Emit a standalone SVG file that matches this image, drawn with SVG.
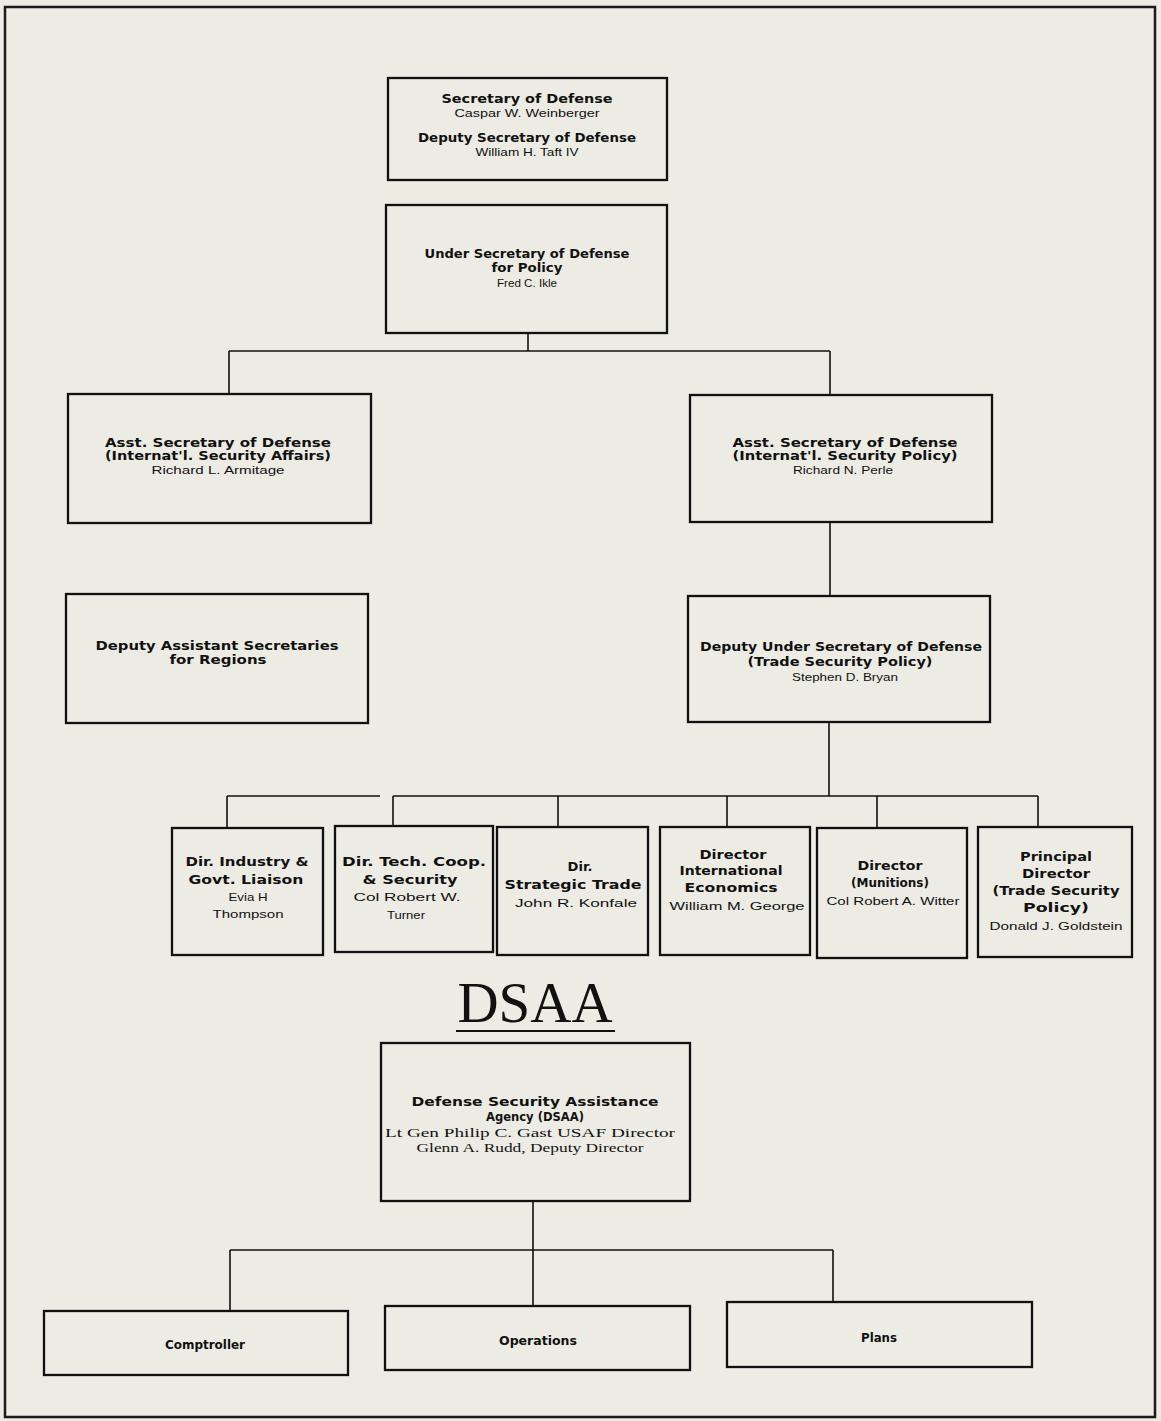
<svg xmlns="http://www.w3.org/2000/svg" width="1161" height="1421" viewBox="0 0 1161 1421">
<style>
.bg{fill:#ecece4}
.frame{fill:none;stroke:#1a1a1a;stroke-width:2.5}
.box{fill:none;stroke:#111;stroke-width:2.3}
.conn{fill:none;stroke:#111;stroke-width:1.6}
text{text-anchor:middle;fill:#111}
.b{font-family:"DejaVu Sans","Liberation Sans",sans-serif;font-weight:bold;font-size:11.5px}
.r{font-family:"Liberation Sans","DejaVu Sans",sans-serif;font-size:11.5px}
.s{font-family:"Liberation Serif","DejaVu Serif",serif;font-size:11.5px}
.t{font-family:"Liberation Serif","DejaVu Serif",serif;font-size:57px}
</style>
<rect class="bg" x="0" y="0" width="1161" height="1421"/>
<rect class="frame" x="5" y="7" width="1150" height="1410"/>

<g id="connectors">
<path class="conn" d="M528 333V351M229 351H830M229 351V394M830 351V395"/>
<path class="conn" d="M830 522V596"/>
<path class="conn" d="M829 722V796M227 796H380M393 796H1038M227 796V828M393 796V826M558 796V827M727 796V827M877 796V828M1038 796V827"/>
<path class="conn" d="M533 1201V1306M230 1250H833M230 1250V1311M833 1250V1302"/>
<line x1="456" y1="1031" x2="615" y2="1031" stroke="#111" stroke-width="2.2"/>
</g>

<g id="secdef">
<rect class="box" x="388" y="78" width="279" height="102"/>
<text class="b" x="527" y="103" textLength="171" lengthAdjust="spacingAndGlyphs">Secretary of Defense</text>
<text class="r" x="527" y="117" textLength="145" lengthAdjust="spacingAndGlyphs">Caspar W. Weinberger</text>
<text class="b" x="527" y="142" textLength="218" lengthAdjust="spacingAndGlyphs">Deputy Secretary of Defense</text>
<text class="r" x="527" y="156" textLength="103" lengthAdjust="spacingAndGlyphs">William H. Taft IV</text>
</g>

<g id="usdp">
<rect class="box" x="386" y="205" width="281" height="128"/>
<text class="b" x="527" y="258" textLength="205" lengthAdjust="spacingAndGlyphs">Under Secretary of Defense</text>
<text class="b" x="527" y="272" textLength="71" lengthAdjust="spacingAndGlyphs">for Policy</text>
<text class="r" x="527" y="287" textLength="60" lengthAdjust="spacingAndGlyphs">Fred C. Ikle</text>
</g>

<g id="asd-isa">
<rect class="box" x="68" y="394" width="303" height="129"/>
<text class="b" x="218" y="447" textLength="226" lengthAdjust="spacingAndGlyphs">Asst. Secretary of Defense</text>
<text class="b" x="218" y="460" textLength="226" lengthAdjust="spacingAndGlyphs">(Internat'l. Security Affairs)</text>
<text class="r" x="218" y="474" textLength="133" lengthAdjust="spacingAndGlyphs">Richard L. Armitage</text>
</g>

<g id="asd-isp">
<rect class="box" x="690" y="395" width="302" height="127"/>
<text class="b" x="845" y="447" textLength="225" lengthAdjust="spacingAndGlyphs">Asst. Secretary of Defense</text>
<text class="b" x="845" y="460" textLength="225" lengthAdjust="spacingAndGlyphs">(Internat'l. Security Policy)</text>
<text class="r" x="843" y="474" textLength="100" lengthAdjust="spacingAndGlyphs">Richard N. Perle</text>
</g>

<g id="das-regions">
<rect class="box" x="66" y="594" width="302" height="129"/>
<text class="b" x="217" y="650" textLength="243" lengthAdjust="spacingAndGlyphs">Deputy Assistant Secretaries</text>
<text class="b" x="218" y="664" textLength="97" lengthAdjust="spacingAndGlyphs">for Regions</text>
</g>

<g id="dusd-tsp">
<rect class="box" x="688" y="596" width="302" height="126"/>
<text class="b" x="841" y="651" textLength="282" lengthAdjust="spacingAndGlyphs">Deputy Under Secretary of Defense</text>
<text class="b" x="840" y="666" textLength="185" lengthAdjust="spacingAndGlyphs">(Trade Security Policy)</text>
<text class="r" x="845" y="681" textLength="106" lengthAdjust="spacingAndGlyphs">Stephen D. Bryan</text>
</g>

<g id="dir-industry">
<rect class="box" x="172" y="828" width="151" height="127"/>
<text class="b" x="247" y="866" textLength="123" lengthAdjust="spacingAndGlyphs">Dir. Industry &amp;</text>
<text class="b" x="246" y="884" textLength="115" lengthAdjust="spacingAndGlyphs">Govt. Liaison</text>
<text class="r" x="248" y="901" textLength="39" lengthAdjust="spacingAndGlyphs">Evia H</text>
<text class="r" x="248" y="918" textLength="71" lengthAdjust="spacingAndGlyphs">Thompson</text>
</g>

<g id="dir-techcoop">
<rect class="box" x="335" y="826" width="158" height="126"/>
<text class="b" x="414" y="866" textLength="144" lengthAdjust="spacingAndGlyphs">Dir. Tech. Coop.</text>
<text class="b" x="410" y="884" textLength="95" lengthAdjust="spacingAndGlyphs">&amp; Security</text>
<text class="r" x="407" y="901" textLength="107" lengthAdjust="spacingAndGlyphs">Col Robert W.</text>
<text class="r" x="406" y="919" textLength="38" lengthAdjust="spacingAndGlyphs">Turner</text>
</g>

<g id="dir-strategic">
<rect class="box" x="497" y="827" width="151" height="128"/>
<text class="b" x="580" y="871" textLength="25" lengthAdjust="spacingAndGlyphs">Dir.</text>
<text class="b" x="573" y="889" textLength="137" lengthAdjust="spacingAndGlyphs">Strategic Trade</text>
<text class="r" x="576" y="907" textLength="122" lengthAdjust="spacingAndGlyphs">John R. Konfale</text>
</g>

<g id="dir-intl-econ">
<rect class="box" x="660" y="827" width="150" height="128"/>
<text class="b" x="733" y="859" textLength="67" lengthAdjust="spacingAndGlyphs">Director</text>
<text class="b" x="731" y="875" textLength="103" lengthAdjust="spacingAndGlyphs">International</text>
<text class="b" x="731" y="892" textLength="93" lengthAdjust="spacingAndGlyphs">Economics</text>
<text class="r" x="737" y="910" textLength="135" lengthAdjust="spacingAndGlyphs">William M. George</text>
</g>

<g id="dir-munitions">
<rect class="box" x="817" y="828" width="150" height="130"/>
<text class="b" x="890" y="870" textLength="65" lengthAdjust="spacingAndGlyphs">Director</text>
<text class="b" x="890" y="887" textLength="78" lengthAdjust="spacingAndGlyphs">(Munitions)</text>
<text class="r" x="893" y="905" textLength="133" lengthAdjust="spacingAndGlyphs">Col Robert A. Witter</text>
</g>

<g id="principal-director">
<rect class="box" x="978" y="827" width="154" height="130"/>
<text class="b" x="1056" y="861" textLength="72" lengthAdjust="spacingAndGlyphs">Principal</text>
<text class="b" x="1056" y="878" textLength="68" lengthAdjust="spacingAndGlyphs">Director</text>
<text class="b" x="1056" y="895" textLength="127" lengthAdjust="spacingAndGlyphs">(Trade Security</text>
<text class="b" x="1056" y="912" textLength="66" lengthAdjust="spacingAndGlyphs">Policy)</text>
<text class="r" x="1056" y="930" textLength="133" lengthAdjust="spacingAndGlyphs">Donald J. Goldstein</text>
</g>

<g id="dsaa-title">
<text class="t" x="535" y="1022" textLength="155" lengthAdjust="spacingAndGlyphs">DSAA</text>
</g>

<g id="dsaa">
<rect class="box" x="381" y="1043" width="309" height="158"/>
<text class="b" x="535" y="1106" textLength="247" lengthAdjust="spacingAndGlyphs">Defense Security Assistance</text>
<text class="b" x="535" y="1121" textLength="98" lengthAdjust="spacingAndGlyphs">Agency (DSAA)</text>
<text class="s" x="530" y="1137" textLength="290" lengthAdjust="spacingAndGlyphs">Lt Gen Philip C. Gast USAF Director</text>
<text class="s" x="530" y="1152" textLength="227" lengthAdjust="spacingAndGlyphs">Glenn A. Rudd, Deputy Director</text>
</g>

<g id="comptroller">
<rect class="box" x="44" y="1311" width="304" height="64"/>
<text class="b" x="205" y="1349" textLength="80" lengthAdjust="spacingAndGlyphs">Comptroller</text>
</g>

<g id="operations">
<rect class="box" x="385" y="1306" width="305" height="64"/>
<text class="b" x="538" y="1345" textLength="78" lengthAdjust="spacingAndGlyphs">Operations</text>
</g>

<g id="plans">
<rect class="box" x="727" y="1302" width="305" height="65"/>
<text class="b" x="879" y="1342" textLength="36" lengthAdjust="spacingAndGlyphs">Plans</text>
</g>
</svg>
